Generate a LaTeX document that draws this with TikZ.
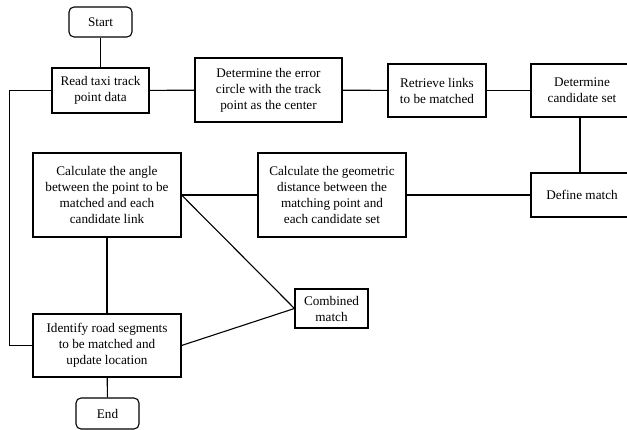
\documentclass[tikz,border=0pt]{standalone}
\usepackage{fontspec}
\setmainfont{Liberation Serif}
\begin{document}
\begin{tikzpicture}[x=1pt,y=-1pt,
  box/.style={draw, line width=1.1pt, align=center, inner sep=0pt, font=\fontsize{13.2}{16}\selectfont},
  term/.style={box, rounded corners=5pt},
  link/.style={line width=1.1pt}]
\useasboundingbox (0,0) rectangle (627,430);
\node[term, minimum width=63pt, minimum height=30pt] (start) at (100.5,22) {Start};
\node[box, minimum width=97pt, minimum height=45pt] (read) at (100.5,90.5) {Read taxi track\\point data};
\node[box, minimum width=147pt, minimum height=64pt] (err) at (268.5,90) {Determine the error\\circle with the track\\point as the center};
\node[box, minimum width=98pt, minimum height=53pt] (ret) at (437,90.5) {Retrieve links\\to be matched};
\node[box, minimum width=102pt, minimum height=53pt] (cand) at (582,90.5) {Determine\\candidate set};
\node[box, minimum width=102pt, minimum height=44pt] (defm) at (582,195) {Define match};
\node[box, minimum width=148pt, minimum height=84pt] (angle) at (107,195) {Calculate the angle\\between the point to be\\matched and each\\candidate link};
\node[box, minimum width=148pt, minimum height=84pt] (geo) at (332,195) {Calculate the geometric\\distance between the\\matching point and\\each candidate set};
\node[box, minimum width=73pt, minimum height=39pt] (comb) at (331.5,308.5) {Combined\\match};
\node[box, minimum width=148pt, minimum height=63pt] (ident) at (107,345.5) {Identify road segments\\to be matched and\\update location};
\node[term, minimum width=63pt, minimum height=31pt] (end) at (107.5,413.5) {End};
\coordinate (loop) at (9.5,90.5);
\draw[link] (start) -- (read);
\draw[link] (read) -- (err);
\draw[link] (err) -- (ret);
\draw[link] (ret) -- (cand);
\draw[link] ([xshift=-2pt]cand.south) -- ([xshift=-2pt]defm.north);
\draw[link] (defm) -- (geo);
\draw[link] (geo) -- (angle);
\draw[link] (angle.east) -- (comb.west);
\draw[link] (angle) -- (ident);
\draw[link] (ident.east) -- (comb.west);
\draw[link] (ident) -- (end);
\draw[link] (read.west) -- (loop) |- (ident.west);
\end{tikzpicture}
\end{document}
